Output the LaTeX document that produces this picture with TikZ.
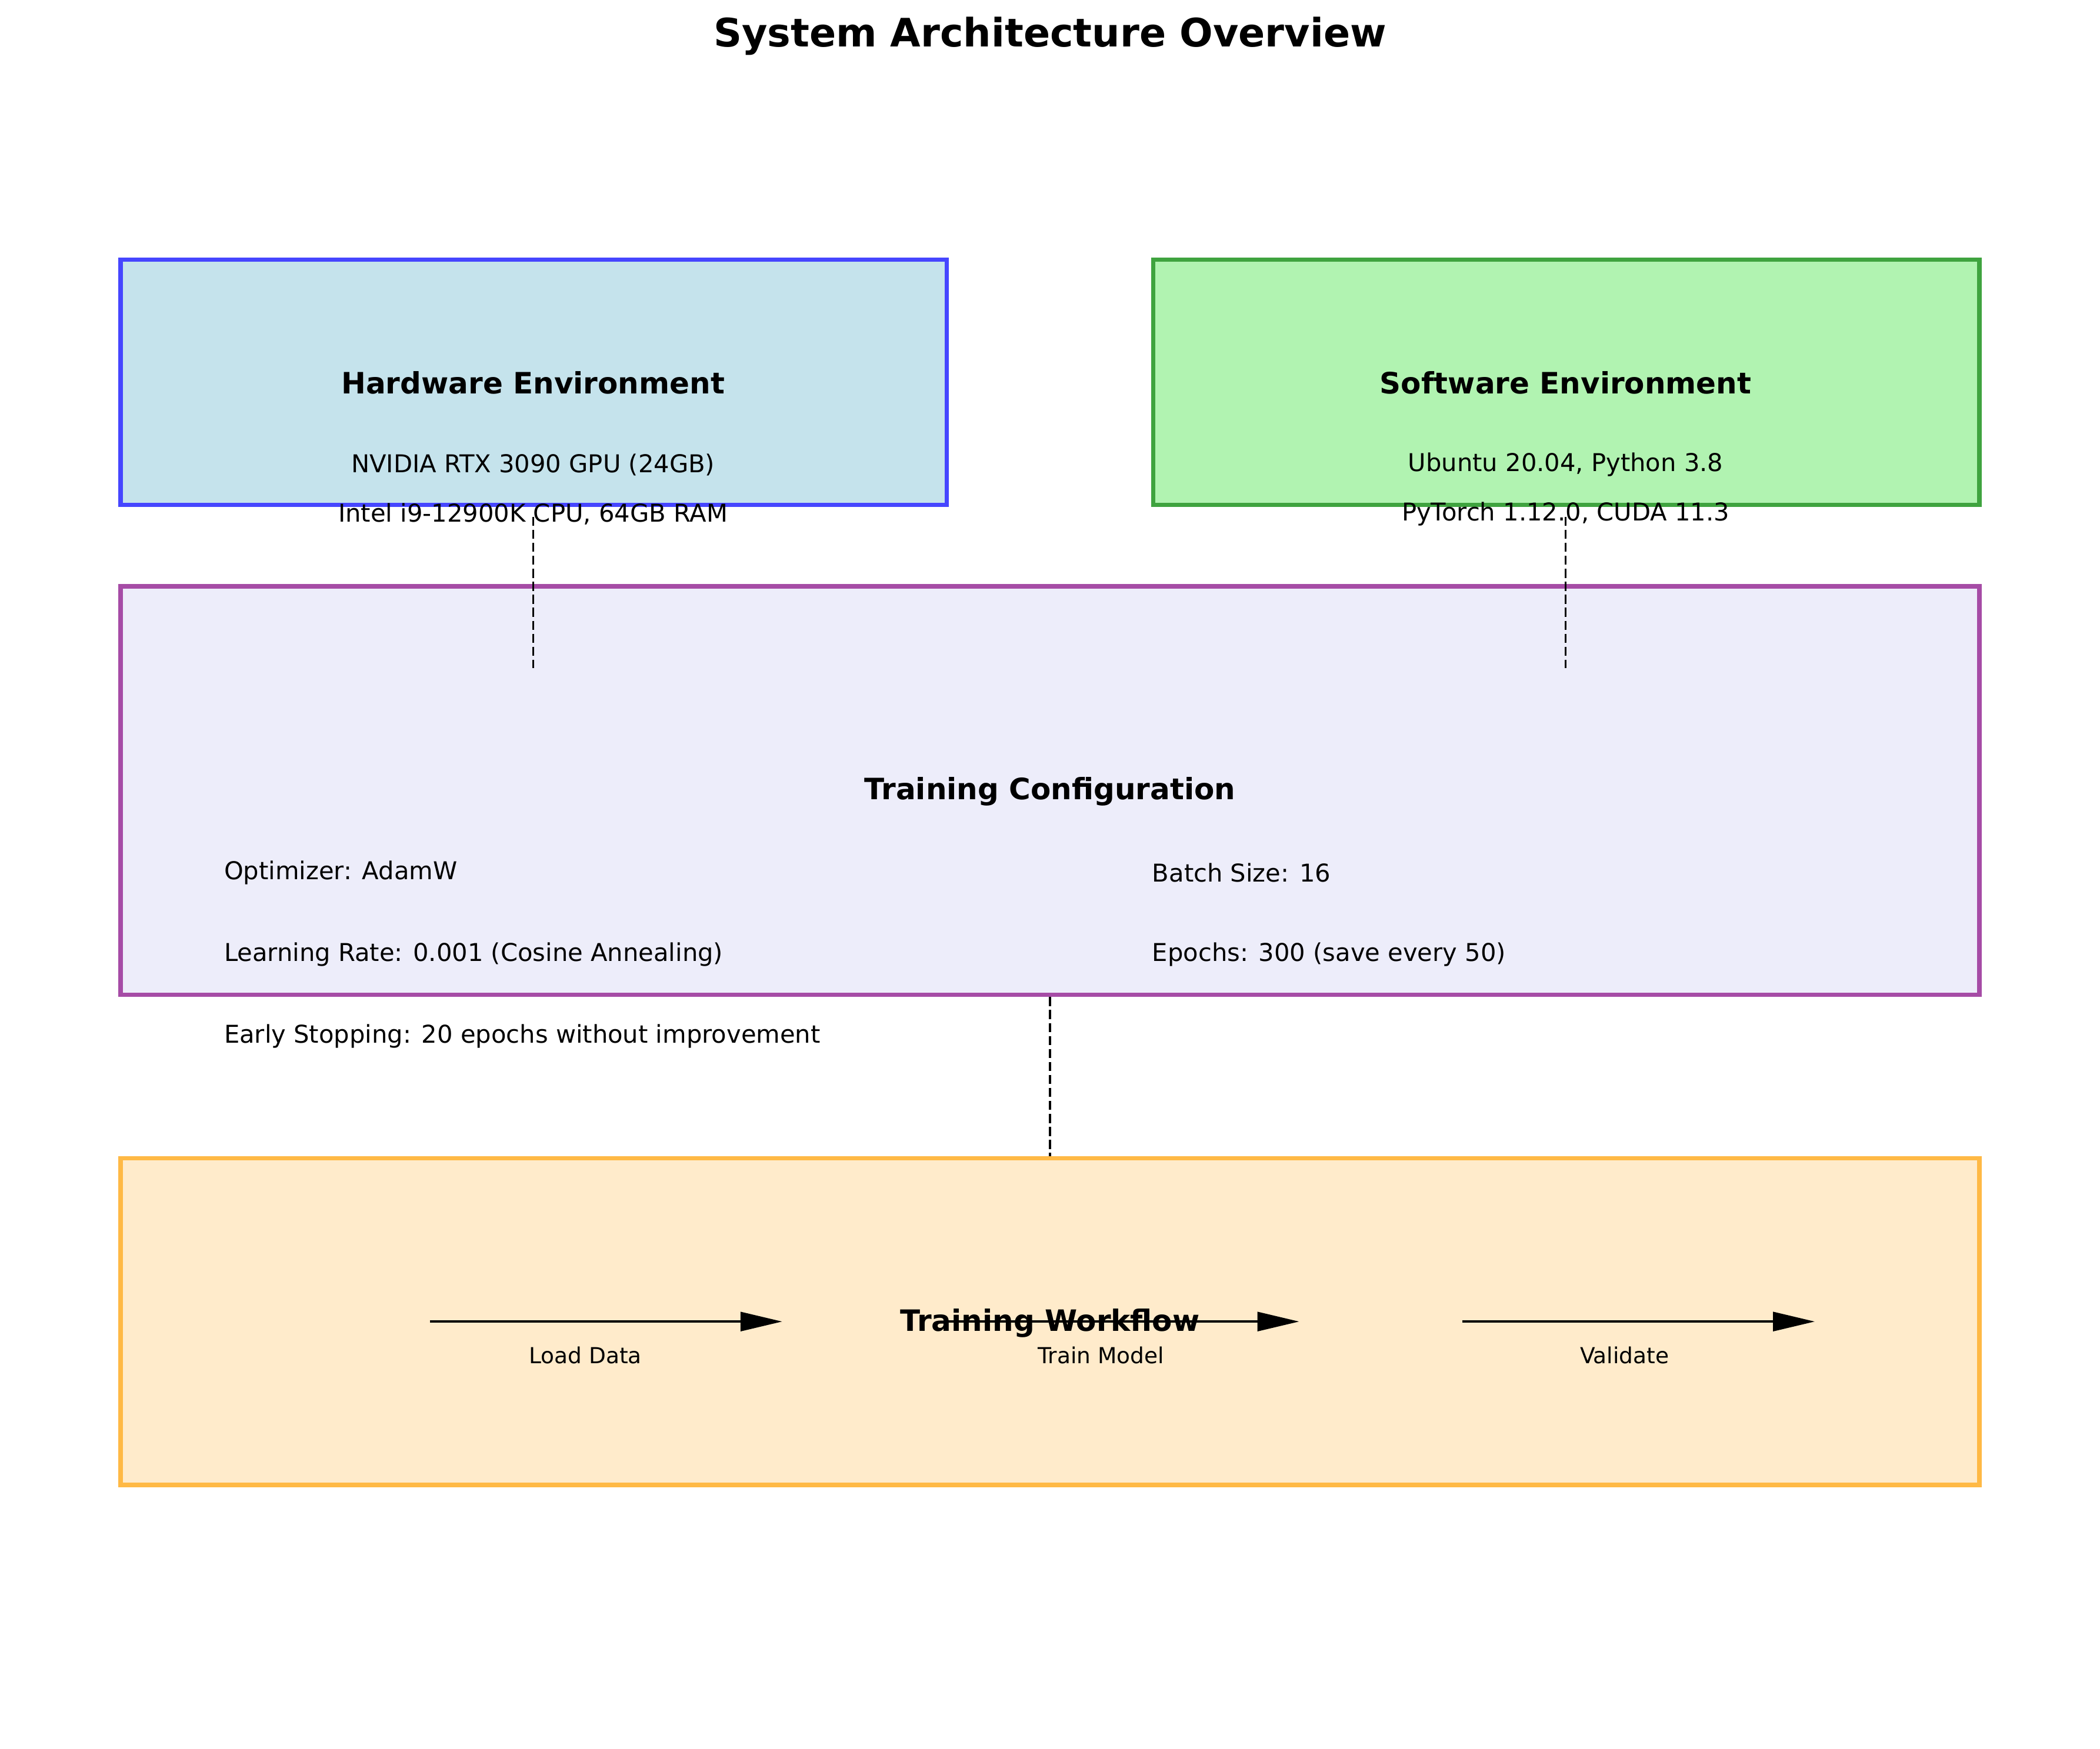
\documentclass[tikz,border=0pt]{standalone}
\usepackage{fontspec}
\setmainfont{DejaVu Sans}
\usetikzlibrary{arrows.meta,fit}
\definecolor{hwfill}{HTML}{C5E3EC}
\definecolor{hwedge}{HTML}{4646FF}
\definecolor{swfill}{HTML}{B1F3B1}
\definecolor{swedge}{HTML}{3FA33F}
\definecolor{cfgfill}{HTML}{EDEDFA}
\definecolor{cfgedge}{HTML}{A64CA6}
\definecolor{wffill}{HTML}{FFEBCB}
\definecolor{wfedge}{HTML}{FFB945}
\tikzset{
  box/.style={draw, line width=1.8pt, inner sep=0pt},
  heading/.style={font=\fontsize{12}{14}\selectfont\bfseries, inner sep=0pt},
  body/.style={font=\fontsize{10}{12}\selectfont, inner sep=0pt},
  bodyl/.style={body, anchor=west},
  small/.style={font=\fontsize{9}{11}\selectfont, inner sep=0pt},
  link/.style={line width=0.8pt, dash pattern=on 3.7pt off 1.6pt},
  flow/.style={line width=0.9pt, -{Triangle[length=17pt,width=7.8pt]}}
}
\begin{document}
\begin{tikzpicture}[x=0.5464pt,y=-0.5464pt]
\useasboundingbox (0,0) rectangle (1568,1306);
% title
\node[font=\fontsize{16}{19}\selectfont\bfseries, inner sep=0pt] (title) at (784,27) {System Architecture Overview};
% boxes
\node[box, draw=hwedge, fill=hwfill, fit={(90,194) (707,377)}] (hw) {};
\node[box, draw=swedge, fill=swfill, fit={(861,194) (1478,377)}] (sw) {};
\node[box, draw=cfgedge, fill=cfgfill, fit={(90,438) (1478,743)}] (cfg) {};
\node[box, draw=wfedge, fill=wffill, fit={(90,865) (1478,1109)}] (wf) {};
% hardware texts
\node[heading] (hwt) at (398,286) {Hardware Environment};
\node[body] (hw1) at (398,347) {NVIDIA RTX 3090 GPU (24GB)};
\node[body] (hw2) at (398,384) {Intel i9-12900K CPU, 64GB RAM};
% software texts
\node[heading] (swt) at (1169,286) {Software Environment};
\node[body] (sw1) at (1169,347) {Ubuntu 20.04, Python 3.8};
\node[body] (sw2) at (1169,384) {PyTorch 1.12.0, CUDA 11.3};
% config texts
\node[heading] (cfgt) at (784,591) {Training Configuration};
\node[bodyl] (c1) at (167,652) {Optimizer: AdamW};
\node[bodyl] (c2) at (167,713) {Learning Rate: 0.001 (Cosine Annealing)};
\node[bodyl] (c3) at (167,774) {Early Stopping: 20 epochs without improvement};
\node[bodyl] (c4) at (860,652) {Batch Size: 16};
\node[bodyl] (c5) at (860,713) {Epochs: 300 (save every 50)};
% dashed links
\coordinate (hwa) at (398,386);
\coordinate (hwb) at (398,499);
\coordinate (swa) at (1169,386);
\coordinate (swb) at (1169,499);
\draw[link] (hwa) -- (hwb);
\draw[link] (swa) -- (swb);
\draw[link] (cfg.south) -- (wf.north);
% workflow
\node[heading] (wft) at (784,988) {Training Workflow};
\coordinate (a1s) at (321,987); \coordinate (a1e) at (584,987);
\coordinate (a2s) at (707,987); \coordinate (a2e) at (970,987);
\coordinate (a3s) at (1092,987); \coordinate (a3e) at (1355,987);
\draw[flow] (a1s) -- (a1e);
\draw[flow] (a2s) -- (a2e);
\draw[flow] (a3s) -- (a3e);
\node[small] (l1) at (437,1012) {Load Data};
\node[small] (l2) at (822,1012) {Train Model};
\node[small] (l3) at (1213,1012) {Validate};
\end{tikzpicture}
\end{document}
